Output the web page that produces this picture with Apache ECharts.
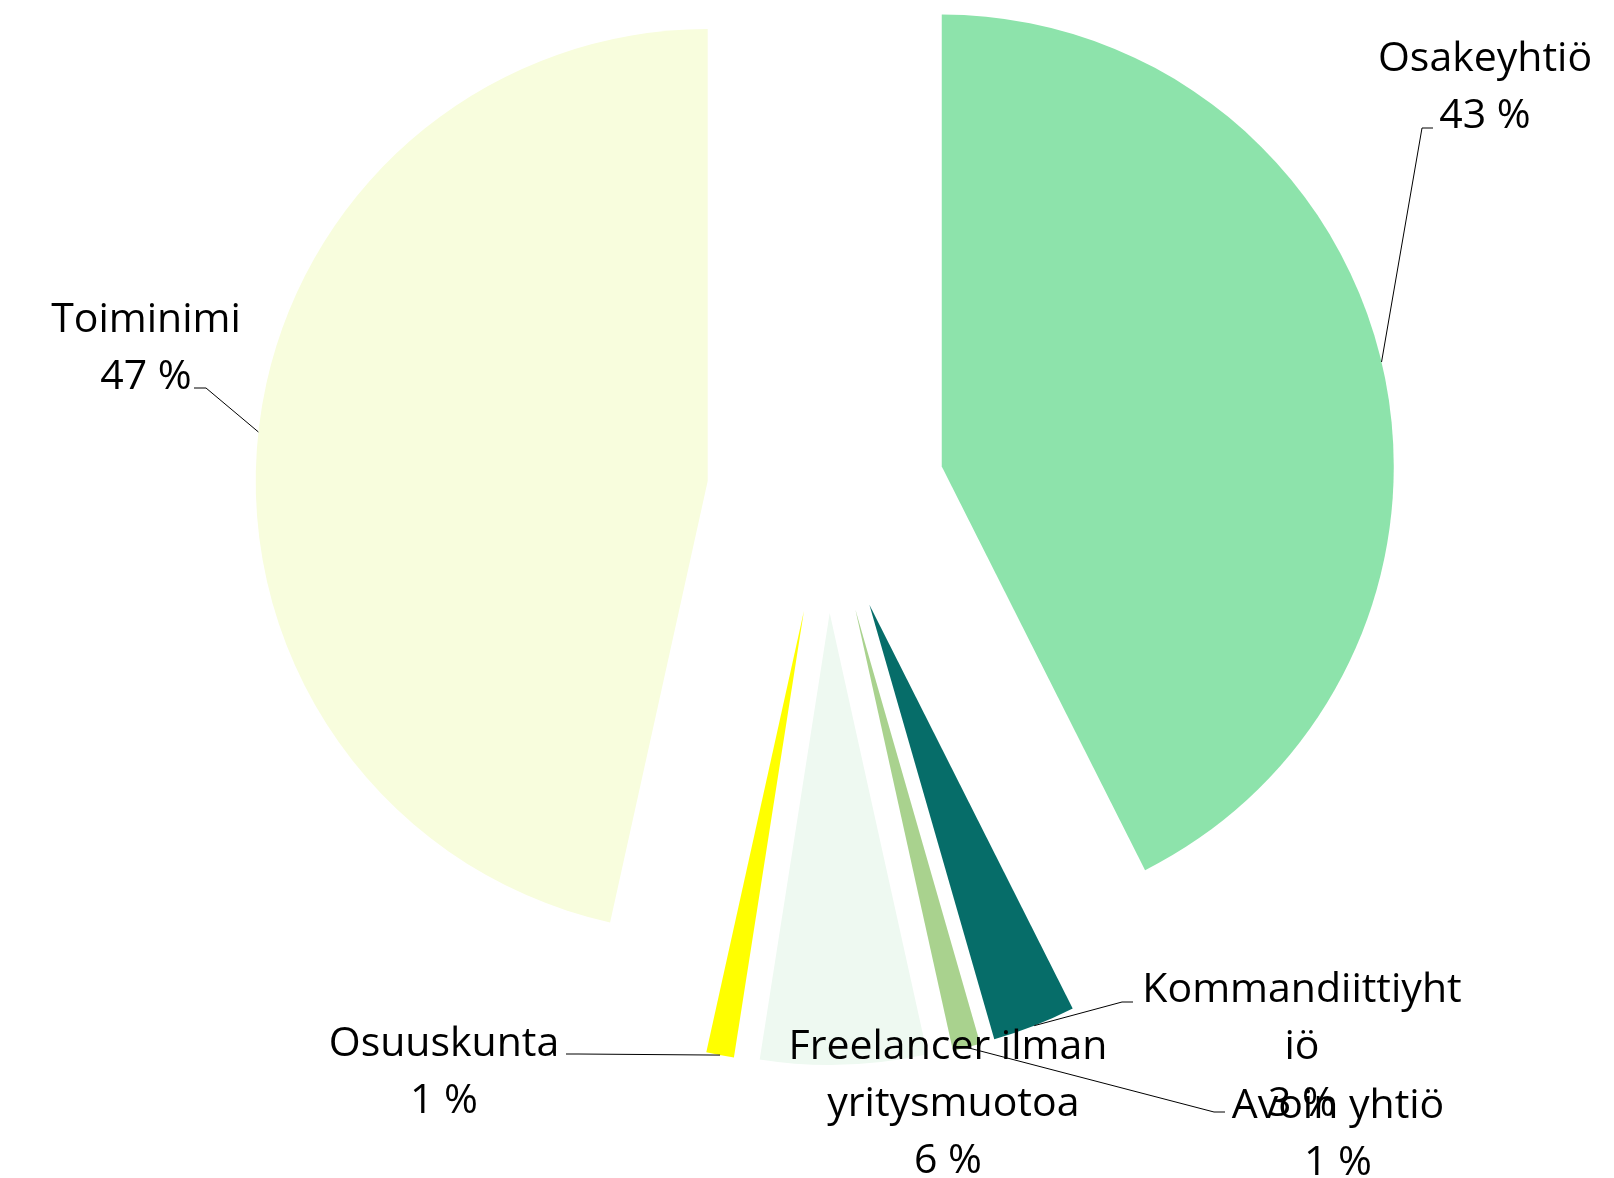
<!DOCTYPE html>
<html>
<head>
    <meta charset="utf-8">
</head>
<body style="margin: 0; background: #fff">
    <div id="main" style="width: 1614px; height: 1178px"></div>
    <script src="https://cdn.jsdelivr.net/npm/echarts@6/dist/echarts.min.js"></script>
    <script type="text/javascript">
        // data
        var categories = ['Osakeyhtiö', 'Kommandiittiyhtiö', 'Avoin yhtiö', 'Freelancer ilman yritysmuotoa', 'Osuuskunta', 'Toiminimi'];
        var shares = [43, 3, 1, 6, 1, 47];

        // styling
        var colors = ['#8de3ab', '#066d69', '#a9d28e', '#eef9f1', '#ffff00', '#f8fddd'];
        var FONT = 'Open Sans';
        var FONT_SIZE = 41;
        var CENTER = [826, 494];
        var RADIUS = 452;
        var OFFSET = 119;
        // top-centre of each label block
        var labelSpots = [[1485, 31], [1302, 962], [1338, 1078], [948, 1019], [444, 1016], [146, 292]];
        // leader line: bend point and end point (null = no leader)
        var leaderBends = [[1422, 128], [1122, 1002], [1214, 1112], null, [578, 1054], [206, 388]];
        var leaderEnds = [[1433, 128], [1133, 1002], [1225, 1112], null, [566, 1054], [194, 388]];

        function textWidth(str) {
            var ctx = document.createElement('canvas').getContext('2d');
            ctx.font = FONT_SIZE + 'px "' + FONT + '"';
            return ctx.measureText(str).width;
        }

        var chart = echarts.init(document.getElementById('main'));

        var sliceData = categories.map(function (name, i) {
            return {
                name: name,
                value: shares[i],
                selected: true,
                itemStyle: { color: colors[i] }
            };
        });

        var labelData = categories.map(function (name, i) {
            var item = {
                name: name,
                value: shares[i],
                itemStyle: { color: 'rgba(0,0,0,0)' }
            };
            if (name === 'Kommandiittiyhtiö') {
                item.label = { width: Math.ceil(textWidth('Kommandiittiyht')) + 4, overflow: 'breakAll' };
            }
            if (name === 'Freelancer ilman yritysmuotoa') {
                item.label = { width: Math.ceil(textWidth('Freelancer ilman')) + 6, overflow: 'break' };
                item.labelLine = { show: false };
            }
            return item;
        });

        chart.setOption({
            animation: false,
            series: [{
                type: 'pie',
                z: 2,
                center: CENTER,
                radius: RADIUS,
                startAngle: 90,
                clockwise: true,
                selectedMode: 'multiple',
                selectedOffset: OFFSET,
                silent: true,
                label: { show: false },
                labelLine: { show: false },
                data: sliceData
            }, {
                // transparent copy that only carries the labels
                type: 'pie',
                z: 5,
                center: CENTER,
                radius: RADIUS,
                startAngle: 90,
                clockwise: true,
                avoidLabelOverlap: false,
                silent: true,
                label: {
                    show: true,
                    position: 'outside',
                    formatter: function (p) {
                        return p.name + '\n' + p.value + ' %';
                    },
                    fontFamily: FONT,
                    fontSize: FONT_SIZE,
                    lineHeight: 57,
                    color: '#000',
                    align: 'center'
                },
                labelLine: {
                    show: true,
                    lineStyle: { color: '#000', width: 1 }
                },
                labelLayout: function (params) {
                    var i = params.dataIndex;
                    var spot = labelSpots[i];
                    var out = {
                        x: spot[0],
                        y: spot[1],
                        align: 'center',
                        verticalAlign: 'top'
                    };
                    if (leaderEnds[i] && params.labelLinePoints) {
                        var p0 = params.labelLinePoints[0];
                        var k = (RADIUS + OFFSET) / RADIUS;
                        var start = [CENTER[0] + (p0[0] - CENTER[0]) * k, CENTER[1] + (p0[1] - CENTER[1]) * k];
                        out.labelLinePoints = [start, leaderBends[i], leaderEnds[i]];
                    }
                    return out;
                },
                data: labelData
            }]
        });
    </script>
</body>
</html>
